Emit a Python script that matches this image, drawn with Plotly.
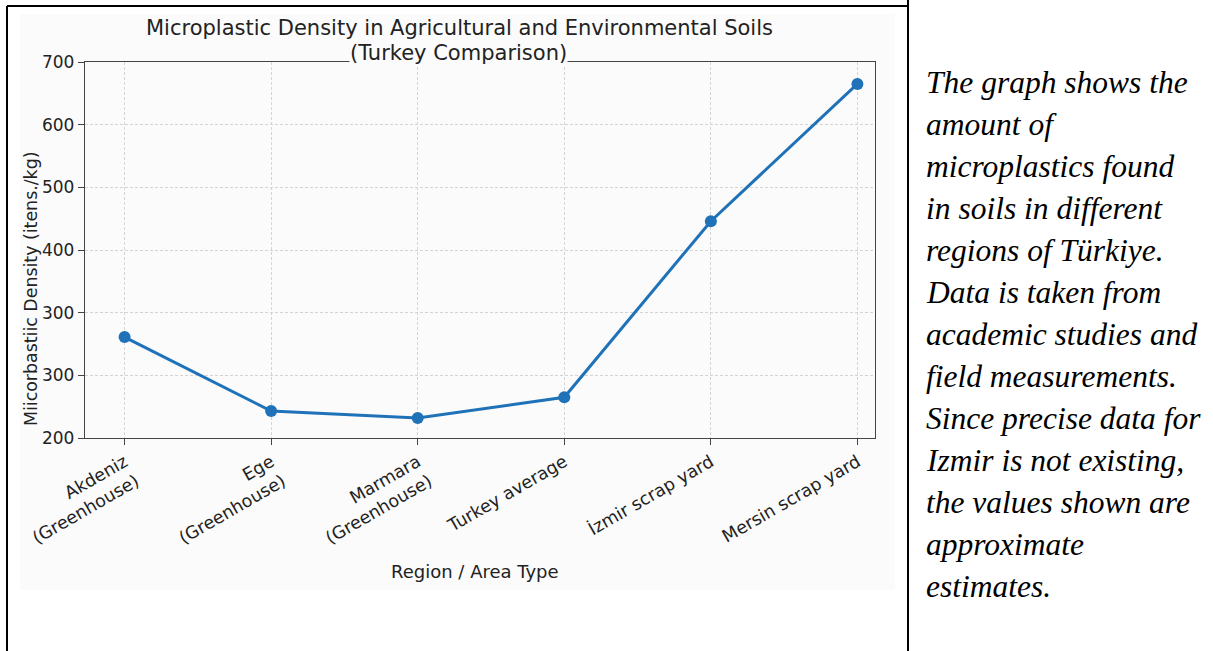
import plotly.graph_objects as go

# ---- data ----
categories = ["Akdeniz<br>(Greenhouse)", "Ege<br>(Greenhouse)", "Marmara<br>(Greenhouse)",
              "Turkey average", "İzmir scrap yard", "Mersin scrap yard"]
density = [261, 143, 132, 165, 446, 665]
y_tick_vals = [100, 200, 300, 400, 500, 600, 700]
y_tick_text = ["200", "300", "300", "400", "500", "600", "700"]

title_line1 = "Microplastic Density in Agricultural and Environmental Soils"
title_line2 = "(Turkey Comparison)"
y_title = "Miicorbastiic Density (itens./kg)"
x_title = "Region / Area Type"
side_lines = ["The graph shows the", "amount of", "microplastics found",
              "in soils in different", "regions of Türkiye.", "Data is taken from",
              "academic studies and", "field measurements.", "Since precise data for",
              "Izmir is not existing,", "the values shown are", "approximate", "estimates."]

# ---- geometry (pixels) ----
W, H = 1213, 651
L, R, T, B = 85, 875, 62, 438
pw, ph = R - L, B - T


def px(x):
    return (x - L) / pw


def py(y):
    return (B - y) / ph


BLUE = "#1f72b8"
SPINE = "#444444"
BG = "#fbfbfb"

fig = go.Figure()
fig.add_trace(go.Scatter(
    x=categories, y=density, mode="lines+markers",
    line=dict(color=BLUE, width=3),
    marker=dict(color=BLUE, size=12),
    hoverinfo="x+y", showlegend=False,
))

font = "DejaVu Sans"
fig.update_layout(
    width=W, height=H,
    margin=dict(l=L, r=W - R, t=T, b=H - B, pad=0),
    paper_bgcolor="white", plot_bgcolor="rgba(0,0,0,0)",
    font=dict(family=font, color="#222222"),
    xaxis=dict(
        type="category", range=[-0.27, 5.12],
        showline=True, linecolor=SPINE, linewidth=1.3, mirror=True,
        ticks="outside", ticklen=6, tickcolor=SPINE, tickwidth=1.2,
        tickangle=-30, tickfont=dict(size=17.5, family=font, color="#222"),
        showgrid=True, gridcolor="#d4d4d4", griddash="3px,2px", gridwidth=0.8,
        zeroline=False,
    ),
    yaxis=dict(
        range=[100, 700], tickmode="array", tickvals=y_tick_vals, ticktext=y_tick_text,
        showline=True, linecolor=SPINE, linewidth=1.3, mirror=True,
        ticks="outside", ticklen=6, tickcolor=SPINE, tickwidth=1.2,
        tickfont=dict(size=17, family=font, color="#222"),
        showgrid=True, gridcolor="#d4d4d4", griddash="3px,2px", gridwidth=0.8,
        zeroline=False,
    ),
)

shapes = [
    dict(type="rect", xref="paper", yref="paper", x0=px(20), x1=px(895), y0=py(590), y1=py(14),
         fillcolor=BG, line=dict(width=0), layer="below"),
    dict(type="line", xref="paper", yref="paper", x0=px(7), x1=px(908), y0=py(6), y1=py(6),
         line=dict(color="black", width=2)),
    dict(type="line", xref="paper", yref="paper", x0=px(7), x1=px(7), y0=py(6), y1=py(651),
         line=dict(color="black", width=2)),
    dict(type="line", xref="paper", yref="paper", x0=px(908), x1=px(908), y0=py(0), y1=py(651),
         line=dict(color="black", width=2)),
]
fig.update_layout(shapes=shapes)

ann = [
    dict(text=title_line1, x=px(459), y=py(28), xref="paper", yref="paper", showarrow=False,
         xanchor="center", yanchor="middle", font=dict(size=21, family=font, color="#222")),
    dict(text=title_line2, x=px(458), y=py(53), xref="paper", yref="paper", showarrow=False,
         xanchor="center", yanchor="middle", bgcolor=BG, borderpad=0,
         font=dict(size=21, family=font, color="#222")),
    dict(text=y_title, x=px(31), y=py(289), xref="paper", yref="paper", showarrow=False,
         xanchor="center", yanchor="middle", textangle=-90,
         font=dict(size=17.4, family=font, color="#222")),
    dict(text=x_title, x=px(475), y=py(571), xref="paper", yref="paper", showarrow=False,
         xanchor="center", yanchor="middle", font=dict(size=18, family=font, color="#222")),
]
for i, line in enumerate(side_lines):
    ann.append(dict(text=line, x=px(924), y=py(82 + 42 * i), xref="paper", yref="paper",
                    showarrow=False, xanchor="left", yanchor="middle",
                    font=dict(size=31.5, family="Liberation Serif", color="black", style="italic")))
fig.update_layout(annotations=ann)

fig.write_html("out.html", post_script="document.body.style.margin='0px';",
               config={"displayModeBar": False})
